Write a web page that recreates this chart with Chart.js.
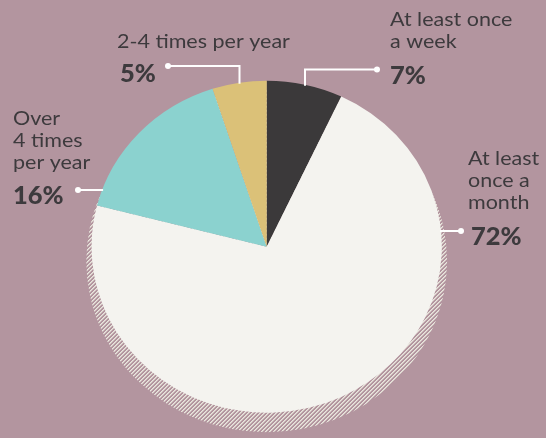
<!DOCTYPE html>
<html><head><meta charset="utf-8">
<script src="https://cdn.jsdelivr.net/npm/chart.js@4.4.1/dist/chart.umd.min.js"></script>
<style>html,body{margin:0;padding:0;background:#b3959f;overflow:hidden}#wrap{width:546px;height:438px;position:relative}canvas{display:block}</style>
</head><body><div id="wrap"><canvas id="c" width="546" height="438"></canvas></div>
<script>
const categories = ['At least once a week','At least once a month','Over 4 times per year','2-4 times per year'];
const labelLines = [['At least once','a week'],['At least','once a','month'],['Over','4 times','per year'],['2-4 times per year']];
const values = [7,72,16,5];
const percentLabels = ['7%','72%','16%','5%'];
const colors = ['#3b393a','#f4f3ef','#8bd2cf','#dbc178'];

const SX = 1.055; // horizontal stretch of the pie
const TSX = 1.075; // horizontal stretch of label text
const TEXT = '#3d3a3d';

// crisp diagonal hatch tile for the shadow
const tile = document.createElement('canvas');
tile.width = 4; tile.height = 4;
(function(){
  const t = tile.getContext('2d');
  const img = t.createImageData(4,4);
  for (let y=0;y<4;y++) for (let x=0;x<4;x++){
    const k = (y*4+x)*4, m = (x+y)%4;
    const a = m===0 ? 255 : (m===1 ? 170 : 0);
    img.data[k]=233; img.data[k+1]=230; img.data[k+2]=221; img.data[k+3]=a;
  }
  t.putImageData(img,0,0);
})();

const stretch = {
  id:'stretch',
  beforeDatasetsDraw(chart){
    const arc = chart.getDatasetMeta(0).data[0];
    const ctx = chart.ctx;
    ctx.save();
    ctx.beginPath();
    ctx.ellipse(arc.x, arc.y + 14.5, (arc.outerRadius + 5)*SX, arc.outerRadius + 5, 0, 0, Math.PI*2);
    ctx.fillStyle = ctx.createPattern(tile,'repeat');
    ctx.fill();
    ctx.translate(arc.x,0); ctx.scale(SX,1); ctx.translate(-arc.x,0);
  },
  afterDatasetsDraw(chart){ chart.ctx.restore(); }
};

const layoutCfg = [
  {tx:390, ty:[26,47.5], px:390, py:83.5, dot:[377,69.5], kind:'v', vx:305},
  {tx:468, ty:[165,187,209], px:471, py:245, dot:[461,231], kind:'h', side:1},
  {tx:13, ty:[125,147,168.5], px:13, py:204, dot:[78,190], kind:'h', side:-1},
  {tx:117, ty:[48], px:120, py:81.5, dot:[168,66], kind:'v', vx:239.5}
];

function stretchedText(ctx, s, x, y, k){
  ctx.save(); ctx.translate(x,y); ctx.scale(k,1); ctx.fillText(s,0,0); ctx.restore();
}

const labels = {
  id:'labels',
  afterDraw(chart){
    const arc = chart.getDatasetMeta(0).data[0];
    const cx = arc.x, cy = arc.y, ry = arc.outerRadius, rx = ry*SX;
    const ctx = chart.ctx;
    ctx.save();
    ctx.strokeStyle = '#ffffff'; ctx.fillStyle = '#ffffff'; ctx.lineWidth = 2;
    layoutCfg.forEach((c,i)=>{
      const [dx,dy] = c.dot;
      ctx.beginPath();
      ctx.moveTo(dx,dy);
      if (c.kind === 'v') {
        const ey = cy - ry*Math.sqrt(1 - Math.pow((c.vx-cx)/rx,2));
        ctx.lineTo(c.vx,dy); ctx.lineTo(c.vx, ey + 1);
      } else {
        const ex = cx + c.side*rx*Math.sqrt(1 - Math.pow((dy-cy)/ry,2));
        ctx.lineTo(ex - c.side, dy);
      }
      ctx.stroke();
      ctx.beginPath(); ctx.arc(dx,dy,3,0,Math.PI*2); ctx.fill();
    });
    ctx.fillStyle = TEXT; ctx.textAlign = 'left'; ctx.textBaseline = 'alphabetic';
    layoutCfg.forEach((c,i)=>{
      ctx.font = '20px Lato';
      labelLines[i].forEach((ln,j)=>stretchedText(ctx, ln, c.tx, c.ty[j], TSX));
      ctx.font = '900 25px Lato';
      stretchedText(ctx, percentLabels[i], c.px, c.py, 1.02);
    });
    ctx.restore();
  }
};

new Chart(document.getElementById('c'), {
  type:'pie',
  data:{ labels:categories, datasets:[{ data:values, backgroundColor:colors, borderWidth:0, hoverOffset:0 }] },
  options:{
    responsive:false, animation:false, events:[],
    layout:{ padding:{ top:80.7, bottom:25.3, left:100.7, right:113.3 } },
    plugins:{ legend:{display:false}, tooltip:{enabled:false} }
  },
  plugins:[stretch, labels]
});
</script></body></html>
